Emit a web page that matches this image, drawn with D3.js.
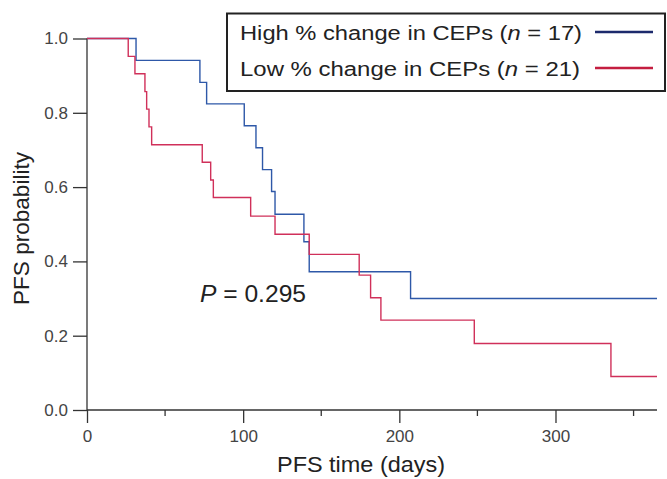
<!DOCTYPE html>
<html>
<head>
<meta charset="utf-8">
<script src="https://cdn.jsdelivr.net/npm/d3@7/dist/d3.min.js"></script>
<style>
  body { margin: 0; background: #fff; }
  svg { display: block; font-family: "Liberation Sans", Arial, sans-serif; }
</style>
</head>
<body>
<div id="chart"></div>
<script>
// Kaplan-Meier steps (days, PFS probability)
const highTimes = [0, 31.4, 72.3, 76.6, 100.7, 108.2, 112.4, 118.2, 120.4, 138.9, 142.3, 207.2];
const highSurv  = [1, 0.941, 0.882, 0.824, 0.765, 0.706, 0.647, 0.588, 0.527, 0.453, 0.372, 0.300];
const lowTimes  = [0, 26.4, 30.7, 37.1, 38.2, 39.7, 41.4, 73.8, 79.2, 80.9, 104.8, 120.4, 142.3, 174.3, 181.6, 188.2, 248, 335.5];
const lowSurv   = [1, 0.952, 0.905, 0.857, 0.810, 0.762, 0.714, 0.667, 0.619, 0.572, 0.522, 0.473, 0.419, 0.363, 0.302, 0.242, 0.179, 0.090];
const xMajorTicks = [0, 100, 200, 300];
const xMinorTicks = [50, 150, 250, 350];
const yTicks = [0, 0.2, 0.4, 0.6, 0.8, 1.0];
const maxDay = 365;

const series = [
  {label: 'High % change in CEPs (', n: '17', times: highTimes, surv: highSurv, color: '#2e58a8', legendColor: '#1c2a6c'},
  {label: 'Low % change in CEPs (', n: '21', times: lowTimes, surv: lowSurv, color: '#d0305a', legendColor: '#c41e40'}
];

const width = 667, height = 479;
const margin = {top: 38.5, right: 10, bottom: 69, left: 87};

const svg = d3.select('#chart')
  .append('svg')
  .attr('width', width)
  .attr('height', height);

const x = d3.scaleLinear().domain([0, maxDay]).range([margin.left, width - margin.right]);
const y = d3.scaleLinear().domain([0, 1]).range([height - margin.bottom, margin.top]);

const axisColor = '#333';
const textColor = '#333';

// y axis
const yAxis = svg.append('g')
  .attr('transform', `translate(${margin.left},0)`)
  .call(d3.axisLeft(y).tickValues(yTicks).tickFormat(d3.format('.1f')).tickSize(14).tickPadding(5));
yAxis.select('.domain').attr('stroke', axisColor).attr('stroke-width', 1.3).attr('d', `M0,${y(1)}V${y(0)}`);
yAxis.selectAll('.tick line').attr('stroke', axisColor).attr('stroke-width', 1.3);
yAxis.selectAll('.tick text')
  .attr('fill', '#444')
  .style('font-size', '17px')
  .style('font-family', '"Liberation Sans", Arial, sans-serif');

// x axis, major ticks
const xAxis = svg.append('g')
  .attr('transform', `translate(0,${y(0)})`)
  .call(d3.axisBottom(x).tickValues(xMajorTicks).tickFormat(d3.format('d')).tickSize(13).tickPadding(7));
xAxis.select('.domain').attr('stroke', axisColor).attr('stroke-width', 1.3).attr('d', `M${x(0)},0H${x(maxDay)}`);
xAxis.selectAll('.tick line').attr('stroke', axisColor).attr('stroke-width', 1.3);
xAxis.selectAll('.tick text')
  .attr('fill', '#444')
  .style('font-size', '17px')
  .style('font-family', '"Liberation Sans", Arial, sans-serif');

// x axis, minor ticks
svg.append('g')
  .selectAll('line')
  .data(xMinorTicks)
  .enter()
  .append('line')
  .attr('x1', d => x(d)).attr('x2', d => x(d))
  .attr('y1', y(0)).attr('y2', y(0) + 6)
  .attr('stroke', axisColor)
  .attr('stroke-width', 1.3);

// curves
const line = d3.line()
  .x(d => x(d[0]))
  .y(d => y(d[1]))
  .curve(d3.curveStepAfter);

series.forEach(s => {
  const pts = s.times.map((t, i) => [t, s.surv[i]]);
  pts.push([maxDay, s.surv[s.surv.length - 1]]);
  svg.append('path')
    .datum(pts)
    .attr('d', line)
    .attr('fill', 'none')
    .attr('stroke', s.color)
    .attr('stroke-width', 1.4);
});

// legend
const legend = svg.append('g');
legend.append('rect')
  .attr('x', 227).attr('y', 13.5)
  .attr('width', 438).attr('height', 77.5)
  .attr('fill', '#fff')
  .attr('stroke', '#222')
  .attr('stroke-width', 2);

series.forEach((s, i) => {
  const base = 39.5 + i * 36;
  const t = legend.append('text')
    .attr('x', 240)
    .attr('y', base)
    .attr('fill', '#222')
    .style('font-size', '20px')
    .attr('textLength', i === 0 ? 342 : 340)
    .attr('lengthAdjust', 'spacingAndGlyphs');
  t.append('tspan').text(s.label);
  t.append('tspan').style('font-style', 'italic').text('n');
  t.append('tspan').text(` = ${s.n})`);
  legend.append('line')
    .attr('x1', 595).attr('x2', 653)
    .attr('y1', base - 7.5).attr('y2', base - 7.5)
    .attr('stroke', s.legendColor)
    .attr('stroke-width', 2.5);
});

// P value
const p = svg.append('text')
  .attr('x', 200)
  .attr('y', 302)
  .attr('fill', '#222')
  .style('font-size', '23px')
  .attr('textLength', 106)
  .attr('lengthAdjust', 'spacingAndGlyphs');
p.append('tspan').style('font-style', 'italic').text('P');
p.append('tspan').text(' = 0.295');

// axis titles
svg.append('text')
  .attr('x', 277)
  .attr('y', 472)
  .attr('fill', '#222')
  .style('font-size', '22px')
  .attr('textLength', 168)
  .attr('lengthAdjust', 'spacingAndGlyphs')
  .text('PFS time (days)');

svg.append('text')
  .attr('transform', 'translate(29,305) rotate(-90)')
  .attr('fill', '#222')
  .style('font-size', '22px')
  .attr('textLength', 153)
  .attr('lengthAdjust', 'spacingAndGlyphs')
  .text('PFS probability');
</script>
</body>
</html>
